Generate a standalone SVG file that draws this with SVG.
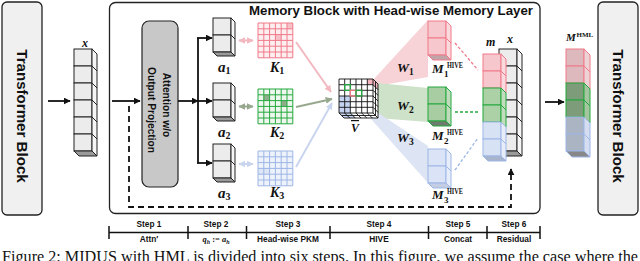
<svg xmlns="http://www.w3.org/2000/svg" width="640" height="261" viewBox="0 0 640 261">
<defs>
<style>
.sans{font-family:"Liberation Sans",Arial,sans-serif;font-weight:bold;fill:#111}
.m{font-family:"Liberation Serif","Times New Roman",serif;font-style:italic;font-weight:bold;fill:#111}
.mu{font-family:"Liberation Serif","Times New Roman",serif;font-weight:bold;fill:#111}
.cap{font-family:"Liberation Serif","Times New Roman",serif;fill:#111}
.ln{stroke:#111;stroke-width:1.8;fill:none}
.k{stroke:#222;stroke-width:1}
.gf{fill:#ececec}.gs{fill:#f6f6f6}.gb{fill:#9a9a9a}
.pk{stroke:#f07a8a;stroke-width:1}
.gr{stroke:#25a83f;stroke-width:1}
.bl{stroke:#9db6e6;stroke-width:1}
</style>
<marker id="ah" viewBox="0 0 10 10" refX="9" refY="5" markerWidth="7" markerHeight="7" markerUnits="userSpaceOnUse" orient="auto"><path d="M0,0 L10,5 L0,10 z" fill="#111"/></marker>
<marker id="ahp" viewBox="0 0 10 10" refX="9" refY="5" markerWidth="7" markerHeight="7" markerUnits="userSpaceOnUse" orient="auto-start-reverse"><path d="M0,0 L10,5 L0,10 z" fill="#f2b8c0"/></marker>
<marker id="ahg" viewBox="0 0 10 10" refX="9" refY="5" markerWidth="7" markerHeight="7" markerUnits="userSpaceOnUse" orient="auto-start-reverse"><path d="M0,0 L10,5 L0,10 z" fill="#97a88e"/></marker>
<marker id="ahb" viewBox="0 0 10 10" refX="9" refY="5" markerWidth="7" markerHeight="7" markerUnits="userSpaceOnUse" orient="auto-start-reverse"><path d="M0,0 L10,5 L0,10 z" fill="#c9d5ee"/></marker>
</defs>
<rect width="640" height="261" fill="#fff"/>

<g id="transformer-left">
<rect x="2" y="2" width="40" height="213" rx="5" fill="#f0f0f0" stroke="#222" stroke-width="1.3"/>
<text class="sans" transform="translate(22,116) rotate(90)" y="5.3" text-anchor="middle" font-size="15.1">Transformer Block</text>
</g>

<g id="x-input">
<rect class="gf k" x="74" y="49" width="18" height="17"/><rect class="gf k" x="74" y="66" width="18" height="17"/><rect class="gf k" x="74" y="83" width="18" height="17"/><rect class="gf k" x="74" y="100" width="18" height="17"/><rect class="gf k" x="74" y="117" width="18" height="17"/><rect class="gf k" x="74" y="134" width="18" height="17"/>
<polygon class="gs k" points="92,49 97,54 97,156 92,151"/>
<path class="k" d="M92,66 L97,71 M92,83 L97,88 M92,100 L97,105 M92,117 L97,122 M92,134 L97,139"/>
<polygon class="gb k" points="74,151 92,151 97,156 79,156"/>
<text class="m" x="82" y="47" font-size="12">x</text>
</g>

<g id="memory-block">
<rect x="109.5" y="2.5" width="430.5" height="211" rx="6" fill="none" stroke="#222" stroke-width="1.3"/>
<text class="sans" x="391" y="15" text-anchor="middle" font-size="13" textLength="284" lengthAdjust="spacingAndGlyphs">Memory Block with Head-wise Memory Layer</text>
</g>

<g id="attention">
<rect x="142" y="21" width="36" height="166" rx="7" fill="#c8c8c8" stroke="#222" stroke-width="1.2"/>
<text class="sans" transform="translate(167,105) rotate(90)" y="3.6" text-anchor="middle" font-size="10.2">Attention w/o</text>
<text class="sans" transform="translate(152,110) rotate(90)" y="3.6" text-anchor="middle" font-size="10.2">Output Projection</text>
</g>

<g id="fans">
<polygon points="373,80 428,20 428,77 377,86" fill="#f7d3d7"/>
<polygon points="377,83 428,88 428,122 377,118" fill="#cde2c9"/>
<polygon points="377,112 428,146 428,183 371,119" fill="#dde4f3"/>
<text class="m" x="397" y="72" font-size="13.5">W<tspan class="mu" font-style="normal" font-size="9.5" dy="2.5">1</tspan></text>
<text class="m" x="397" y="110" font-size="13.5">W<tspan class="mu" font-style="normal" font-size="9.5" dy="2.5">2</tspan></text>
<text class="m" x="397" y="142" font-size="13.5">W<tspan class="mu" font-style="normal" font-size="9.5" dy="2.5">3</tspan></text>
</g>

<g id="a1">
<rect class="gf k" x="213" y="18" width="18" height="17"/><rect class="gf k" x="213" y="35" width="18" height="17"/>
<polygon class="gs k" points="231,18 235,22 235,56 231,52"/><path class="k" d="M231,35 L235,39"/>
<polygon class="gb k" points="213,52 231,52 235,56 217,56"/>
<text class="m" x="218" y="72" font-size="15">a<tspan class="mu" font-style="normal" font-size="10" dy="2">1</tspan></text>
</g>
<g id="a2">
<rect class="gf k" x="213" y="83" width="18" height="17"/><rect class="gf k" x="213" y="100" width="18" height="17"/>
<polygon class="gs k" points="231,83 235,87 235,121 231,117"/><path class="k" d="M231,100 L235,104"/>
<polygon class="gb k" points="213,117 231,117 235,121 217,121"/>
<text class="m" x="218" y="137" font-size="15">a<tspan class="mu" font-style="normal" font-size="10" dy="2">2</tspan></text>
</g>
<g id="a3">
<rect class="gf k" x="213" y="144" width="18" height="17"/><rect class="gf k" x="213" y="161" width="18" height="17"/>
<polygon class="gs k" points="231,144 235,148 235,182 231,178"/><path class="k" d="M231,161 L235,165"/>
<polygon class="gb k" points="213,178 231,178 235,182 217,182"/>
<text class="m" x="218" y="198" font-size="15">a<tspan class="mu" font-style="normal" font-size="10" dy="2">3</tspan></text>
</g>

<g id="K1">
<rect x="258" y="23" width="34.8" height="34.8" fill="#fdeef0"/>
<rect x="287" y="23" width="5.8" height="5.8" fill="#f6c2c8"/><rect x="275.4" y="34.6" width="5.8" height="5.8" fill="#f6c2c8"/>
<path class="pk" d="M258,23H292.8M258,28.8H292.8M258,34.6H292.8M258,40.4H292.8M258,46.2H292.8M258,52H292.8M258,57.8H292.8M258,23V57.8M263.8,23V57.8M269.6,23V57.8M275.4,23V57.8M281.2,23V57.8M287,23V57.8M292.8,23V57.8"/>
<text class="m" x="270" y="72" font-size="14">K<tspan class="mu" font-style="normal" font-size="10" dy="2">1</tspan></text>
</g>
<g id="K2">
<rect x="258" y="89" width="34.8" height="34.8" fill="#eef7ee"/>
<rect x="263.8" y="94.8" width="5.8" height="5.8" fill="#8fae8c"/><rect x="281.2" y="100.6" width="5.8" height="5.8" fill="#8fae8c"/>
<path class="gr" d="M258,89H292.8M258,94.8H292.8M258,100.6H292.8M258,106.4H292.8M258,112.2H292.8M258,118H292.8M258,123.8H292.8M258,89V123.8M263.8,89V123.8M269.6,89V123.8M275.4,89V123.8M281.2,89V123.8M287,89V123.8M292.8,89V123.8"/>
<text class="m" x="270" y="137" font-size="14">K<tspan class="mu" font-style="normal" font-size="10" dy="2">2</tspan></text>
</g>
<g id="K3">
<rect x="258" y="151" width="34.8" height="34.8" fill="#eef2fa"/>
<rect x="258" y="168.4" width="11.6" height="5.8" fill="#dde5f6"/>
<path class="bl" d="M258,151H292.8M258,156.8H292.8M258,162.6H292.8M258,168.4H292.8M258,174.2H292.8M258,180H292.8M258,185.8H292.8M258,151V185.8M263.8,151V185.8M269.6,151V185.8M275.4,151V185.8M281.2,151V185.8M287,151V185.8M292.8,151V185.8"/>
<text class="m" x="270" y="197" font-size="14">K<tspan class="mu" font-style="normal" font-size="10" dy="2">3</tspan></text>
</g>

<g id="V">
<rect x="339" y="79" width="34" height="34" fill="#fff"/>
<polygon points="373,79 378,84 378,118 373,113" fill="#fff"/>
<polygon points="339,113 373,113 378,118 344,118" fill="#fff"/>
<rect x="367.3" y="79" width="5.7" height="5.7" fill="#f4b6be"/>
<polygon points="373,79 378,84 378,89.7 373,84.7" fill="#f4b6be"/>
<rect x="339" y="96" width="11.3" height="17" fill="#c5d3f0"/>
<polygon points="339,113 350.3,113 355.3,118 344,118" fill="#c5d3f0"/>
<path stroke="#111" stroke-width="0.9" fill="none" d="M339,79H373M339,84.7H373M339,90.3H373M339,96H373M339,101.7H373M339,107.3H373M339,113H373M339,79V113M344.7,79V113M350.3,79V113M356,79V113M361.7,79V113M367.3,79V113M373,79V113 M373,79L378,84V118L373,113 M373,84.7L378,89.7M373,90.3L378,95.3M373,96L378,101M373,101.7L378,106.7M373,107.3L378,112.3 M375.5,81.5V115.5 M339,113L344,118H378 M344.7,113L349.7,118M350.3,113L355.3,118M356,113L361,118M361.7,113L366.7,118M367.3,113L372.3,118 M341.5,115.5H375.5"/>
<rect x="344.7" y="84.7" width="5.7" height="5.7" fill="none" stroke="#25a83f" stroke-width="1.3"/>
<rect x="350.3" y="90.3" width="5.7" height="5.7" fill="none" stroke="#f07a8a" stroke-width="1.3"/>
<rect x="356" y="90.3" width="5.7" height="5.7" fill="none" stroke="#25a83f" stroke-width="1.3"/>
<text class="m" x="351" y="132" font-size="12" text-decoration="overline">V</text>
</g>

<g id="M1-HIVE">
<rect x="428" y="21" width="18" height="17" fill="#f6c7cd" class="pk"/><rect x="428" y="38" width="18" height="17" fill="#f6c7cd" class="pk"/>
<polygon class="pk" points="446,21 451,26 451,60 446,55" fill="#fadadd"/><path class="pk" d="M446,38 L451,43"/>
<polygon class="pk" points="428,55 446,55 451,60 433,60" fill="#bfa4a8"/>
<text class="m" x="432" y="73" font-size="13">M</text><text class="mu" x="447" y="68" font-size="7.5" textLength="16" lengthAdjust="spacingAndGlyphs">HIVE</text><text class="mu" x="444" y="77" font-size="9">1</text>
</g>
<g id="M2-HIVE">
<rect x="428" y="87" width="18" height="17" fill="#a9cda3" class="gr"/><rect x="428" y="104" width="18" height="17" fill="#a9cda3" class="gr"/>
<polygon class="gr" points="446,87 451,92 451,126 446,121" fill="#c1dcbc"/><path class="gr" d="M446,104 L451,109"/>
<polygon class="gr" points="428,121 446,121 451,126 433,126" fill="#6f7a6e"/>
<text class="m" x="432" y="140" font-size="13">M</text><text class="mu" x="447" y="135" font-size="7.5" textLength="16" lengthAdjust="spacingAndGlyphs">HIVE</text><text class="mu" x="444" y="144" font-size="9">2</text>
</g>
<g id="M3-HIVE">
<rect x="428" y="149" width="18" height="17" fill="#dbe4f6" class="bl"/><rect x="428" y="166" width="18" height="17" fill="#dbe4f6" class="bl"/>
<polygon class="bl" points="446,149 451,154 451,188 446,183" fill="#e8eef9"/><path class="bl" d="M446,166 L451,171"/>
<polygon class="bl" points="428,183 446,183 451,188 433,188" fill="#c3cde3"/>
<text class="m" x="432" y="199" font-size="13">M</text><text class="mu" x="447" y="194" font-size="7.5" textLength="16" lengthAdjust="spacingAndGlyphs">HIVE</text><text class="mu" x="444" y="203" font-size="9">3</text>
</g>

<g id="x-residual">
<rect class="gf k" x="499" y="49" width="18" height="17"/><rect class="gf k" x="499" y="66" width="18" height="17"/><rect class="gf k" x="499" y="83" width="18" height="17"/><rect class="gf k" x="499" y="100" width="18" height="17"/><rect class="gf k" x="499" y="117" width="18" height="17"/><rect class="gf k" x="499" y="134" width="18" height="17"/>
<polygon class="gs k" points="517,49 522,54 522,156 517,151"/>
<path class="k" d="M517,66 L522,71 M517,83 L522,88 M517,100 L522,105 M517,117 L522,122 M517,134 L522,139"/>
<polygon class="gb k" points="499,151 517,151 522,156 504,156"/>
<text class="m" x="507" y="43" font-size="12">x</text>
</g>

<g id="m-concat">
<rect x="483" y="54" width="18" height="17" fill="#f6c7cd" class="pk"/><rect x="483" y="71" width="18" height="17" fill="#f6c7cd" class="pk"/>
<rect x="483" y="88" width="18" height="17" fill="#acd1a7" class="gr"/><rect x="483" y="105" width="18" height="17" fill="#acd1a7" class="gr"/>
<rect x="483" y="122" width="18" height="17" fill="#d8e2f5" class="bl"/><rect x="483" y="139" width="18" height="17" fill="#d8e2f5" class="bl"/>
<polygon class="pk" points="501,54 506,59 506,93 501,88" fill="#f9dade"/><path class="pk" d="M501,71 L506,76"/>
<polygon class="gr" points="501,88 506,93 506,127 501,122" fill="#c2dcbe"/><path class="gr" d="M501,105 L506,110"/>
<polygon class="bl" points="501,122 506,127 506,161 501,156" fill="#e6ecf8"/><path class="bl" d="M501,139 L506,144"/>
<polygon class="bl" points="483,156 501,156 506,161 488,161" fill="#a8b4cc"/>
<text class="m" x="486" y="46" font-size="12">m</text>
</g>

<g id="M-HML">
<rect x="566" y="49" width="18" height="17" fill="#ddb9bd" class="pk"/><rect x="566" y="66" width="18" height="17" fill="#ddb9bd" class="pk"/>
<rect x="566" y="83" width="18" height="17" fill="#7d9c79" class="gr"/><rect x="566" y="100" width="18" height="17" fill="#7d9c79" class="gr"/>
<rect x="566" y="117" width="18" height="17" fill="#abb4c3" class="bl"/><rect x="566" y="134" width="18" height="17" fill="#abb4c3" class="bl"/>
<polygon class="pk" points="584,49 590,55 590,89 584,83" fill="#edd3d6"/><path class="pk" d="M584,66 L590,72"/>
<polygon class="gr" points="584,83 590,89 590,123 584,117" fill="#a5c5a0"/><path class="gr" d="M584,100 L590,106"/>
<polygon class="bl" points="584,117 590,123 590,157 584,151" fill="#d4def0"/><path class="bl" d="M584,134 L590,140"/>
<polygon class="bl" points="566,151 584,151 590,157 572,157" fill="#888"/>
<text class="m" x="566" y="41" font-size="11">M</text><text class="mu" x="576.5" y="37" font-size="7">HML</text>
</g>

<g id="transformer-right">
<rect x="598" y="2" width="40" height="213" rx="5" fill="#f0f0f0" stroke="#222" stroke-width="1.3"/>
<text class="sans" transform="translate(618,116) rotate(90)" y="5.3" text-anchor="middle" font-size="15.1">Transformer Block</text>
</g>

<g id="connectors">
<line class="ln" x1="48" y1="101" x2="70" y2="101" marker-end="url(#ah)"/>
<line class="ln" x1="112" y1="101" x2="140" y2="101" marker-end="url(#ah)"/>
<path class="ln" stroke-dasharray="6,4" d="M129,106 V207 H511 V169" marker-end="url(#ah)"/>
<line class="ln" x1="178" y1="101" x2="198" y2="101" marker-end="url(#ah)"/>
<line class="ln" x1="198" y1="38" x2="198" y2="163"/>
<line class="ln" x1="197" y1="38" x2="212" y2="38" marker-end="url(#ah)"/>
<line class="ln" x1="198" y1="101" x2="212" y2="101" marker-end="url(#ah)"/>
<line class="ln" x1="197" y1="163" x2="212" y2="163" marker-end="url(#ah)"/>
<line x1="239" y1="40.5" x2="253" y2="40.5" stroke="#f2b8c0" stroke-width="2" marker-start="url(#ahp)" marker-end="url(#ahp)"/>
<line x1="239" y1="106.5" x2="253" y2="106.5" stroke="#97a88e" stroke-width="2" marker-start="url(#ahg)" marker-end="url(#ahg)"/>
<line x1="239" y1="164" x2="253" y2="164" stroke="#c9d5ee" stroke-width="2" marker-start="url(#ahb)" marker-end="url(#ahb)"/>
<line x1="296" y1="42" x2="331" y2="92" stroke="#f2b8c0" stroke-width="2" marker-end="url(#ahp)"/>
<line x1="296" y1="107" x2="332" y2="99" stroke="#97a88e" stroke-width="2" marker-end="url(#ahg)"/>
<line x1="296" y1="167" x2="332" y2="103" stroke="#c9d5ee" stroke-width="2" marker-end="url(#ahb)"/>
<line x1="455" y1="43" x2="478" y2="70" stroke="#f07a8a" stroke-width="1.3" stroke-dasharray="3,2"/>
<line x1="455" y1="112" x2="478" y2="112" stroke="#25a83f" stroke-width="1.3" stroke-dasharray="3,2"/>
<line x1="455" y1="170" x2="478" y2="138" stroke="#9db6e6" stroke-width="1.3" stroke-dasharray="3,2"/>
<line class="ln" x1="545" y1="102" x2="564" y2="102" marker-end="url(#ah)"/>
</g>

<g id="steps">
<path stroke="#111" stroke-width="1.5" fill="none" d="M109,232.5H540 M109,226V239 M188,226V239 M246.5,226V239 M330,226V239 M428.5,226V239 M487,226V239 M540,226V239"/>
<g class="sans" font-size="8.3" text-anchor="middle">
<text x="149" y="227">Step 1</text><text x="216" y="227">Step 2</text><text x="288" y="227">Step 3</text><text x="379" y="227">Step 4</text><text x="458" y="227">Step 5</text><text x="514" y="227">Step 6</text>
<text x="149" y="242">Attn′</text><text x="288" y="242">Head-wise PKM</text><text x="379" y="242">HIVE</text><text x="458" y="242">Concat</text><text x="514" y="242">Residual</text>
</g>
<text class="m" x="216" y="242" font-size="8.5" text-anchor="middle">q<tspan font-size="6" dy="1.5">h</tspan><tspan class="mu" font-style="normal" dy="-1.5"> := </tspan>a<tspan font-size="6" dy="1.5">h</tspan></text>
</g>

<text class="cap" x="2" y="262" font-size="16" textLength="636" lengthAdjust="spacingAndGlyphs">Figure 2: MIDUS with HML is divided into six steps. In this figure, we assume the case where the</text>
</svg>
